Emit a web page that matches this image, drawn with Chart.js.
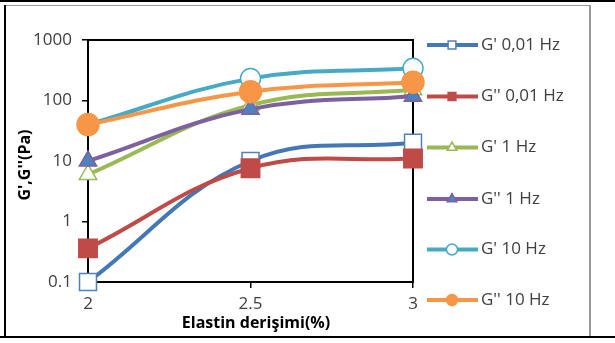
<!DOCTYPE html>
<html>
<head>
<meta charset="utf-8">
<script src="https://cdn.jsdelivr.net/npm/chart.js@4"></script>
<style>
  html, body { margin: 0; padding: 0; background: #fff; }
  #wrap { position: relative; width: 615px; height: 343px; }
  canvas { display: block; }
  .frame { position: absolute; pointer-events: none; }
</style>
</head>
<body>
<div id="wrap">
  <canvas id="chart" width="615" height="343"></canvas>
  <div class="frame" style="left:0;top:0;width:615px;height:2px;background:#000"></div>
  <div class="frame" style="left:4px;top:5px;width:2px;height:333px;background:#000"></div>
  <div class="frame" style="left:6px;top:5px;width:584px;height:1px;background:#999"></div>
  <div class="frame" style="left:589px;top:5px;width:2px;height:332px;background:#999"></div>
  <div class="frame" style="left:0;top:336px;width:615px;height:2px;background:#000"></div>
</div>
<script>
'use strict';

// ── Data ───────────────────────────────────────────────────
const concentrations = [2, 2.5, 3];
const xTicks = [2, 2.5, 3];
const yTicks = [0.1, 1, 10, 100, 1000];

const gp001  = [0.1, 10, 20];
const gpp001 = [0.36, 7.6, 11];
const gp1    = [6, 84, 150];
const gpp1   = [10, 72, 118];
const gp10   = [40, 230, 340];
const gpp10  = [40, 140, 200];

const seriesNames = ["G' 0,01 Hz", "G'' 0,01 Hz", "G' 1 Hz", "G'' 1 Hz", "G' 10 Hz", "G'' 10 Hz"];

Chart.defaults.font.family = "'Open Sans', sans-serif";

const toPoints = arr => arr.map((v, i) => ({ x: concentrations[i], y: v }));

const styles = [
  { line: '#4477b8', fill: '#ffffff', border: '#4f81bd', style: 'rect',     r: 12 },
  { line: '#be4b48', fill: '#be4b48', border: '#be4b48', style: 'rect',     r: 13 },
  { line: '#98b954', fill: '#ffffff', border: '#98b954', style: 'triangle', r: 10 },
  { line: '#7d60a0', fill: '#4f81bd', border: '#7d60a0', style: 'triangle', r: 10 },
  { line: '#46aac5', fill: '#ffffff', border: '#46aac5', style: 'circle',   r: 10 },
  { line: '#f79646', fill: '#f79646', border: '#f79646', style: 'circle',   r: 11 }
];
const seriesData = [gp001, gpp001, gp1, gpp1, gp10, gpp10];

const datasets = seriesData.map((d, i) => ({
  label: seriesNames[i],
  data: toPoints(d),
  borderColor: styles[i].line,
  borderWidth: 4,
  tension: 0.4,
  fill: false,
  clip: false,
  order: 5 - i,
  pointStyle: styles[i].style,
  pointRadius: styles[i].r,
  pointBackgroundColor: styles[i].fill,
  pointBorderColor: styles[i].border,
  pointBorderWidth: 1.5
}));

// ── Plot frame, axis titles, legend ────────────────────────
const decorPlugin = {
  id: 'decor',
  beforeDatasetsDraw(chart) {
    const { ctx, chartArea: a } = chart;
    ctx.save();
    ctx.strokeStyle = '#000';
    ctx.lineWidth = 2;
    ctx.strokeRect(a.left, a.top, a.right - a.left, a.bottom - a.top);
    ctx.restore();
  },
  afterDraw(chart) {
    const { ctx } = chart;
    ctx.save();
    ctx.fillStyle = '#000';
    ctx.font = "bold 16px 'Open Sans', sans-serif";
    ctx.textAlign = 'center';
    ctx.textBaseline = 'middle';
    ctx.fillText('Elastin derişimi(%)', 256, 323);
    ctx.translate(25, 165);
    ctx.rotate(-Math.PI / 2);
    ctx.fillText("G',G''(Pa)", 0, 0);
    ctx.restore();

    const legendY = [45, 96.5, 147.5, 199, 249.5, 300];
    ctx.save();
    seriesNames.forEach((name, i) => {
      const y = legendY[i];
      const s = styles[i];
      ctx.strokeStyle = s.line;
      ctx.lineWidth = 4;
      ctx.beginPath();
      ctx.moveTo(427, y);
      ctx.lineTo(478, y);
      ctx.stroke();
      ctx.fillStyle = s.fill;
      ctx.strokeStyle = s.border;
      ctx.lineWidth = 1.5;
      Chart.helpers.drawPoint(ctx, { pointStyle: s.style, radius: 5.5, rotation: 0, borderWidth: 1.5 }, 452, y);
      ctx.fillStyle = '#404040';
      ctx.font = "17px 'Open Sans', sans-serif";
      ctx.textAlign = 'left';
      ctx.textBaseline = 'middle';
      ctx.fillText(name, 481, y);
    });
    ctx.restore();
  }
};

new Chart(document.getElementById('chart').getContext('2d'), {
  type: 'line',
  data: { datasets },
  plugins: [decorPlugin],
  options: {
    responsive: false,
    animation: false,
    layout: { padding: { top: 40, right: 202, left: 0, bottom: 0 } },
    plugins: { legend: { display: false }, tooltip: { enabled: false } },
    scales: {
      x: {
        type: 'linear', min: 2, max: 3,
        afterBuildTicks: s => { s.ticks = xTicks.map(v => ({ value: v })); },
        afterFit: s => { s.height = 61; },
        ticks: { callback: v => String(v), color: '#404040', font: { size: 17 }, padding: 6, maxRotation: 0 },
        grid: { drawOnChartArea: false, drawTicks: true, tickLength: 6, color: '#000', lineWidth: 1.5 },
        border: { display: true, color: '#000', width: 2 }
      },
      y: {
        type: 'logarithmic', min: 0.1, max: 1000,
        afterBuildTicks: s => { s.ticks = yTicks.map(v => ({ value: v })); },
        afterFit: s => { s.width = 88; },
        ticks: { callback: v => String(v), color: '#404040', font: { size: 17 }, padding: 10 },
        grid: { drawOnChartArea: false, drawTicks: true, tickLength: 6, color: '#000', lineWidth: 1.5 },
        border: { display: true, color: '#000', width: 2 }
      }
    }
  }
});
</script>
</body>
</html>
